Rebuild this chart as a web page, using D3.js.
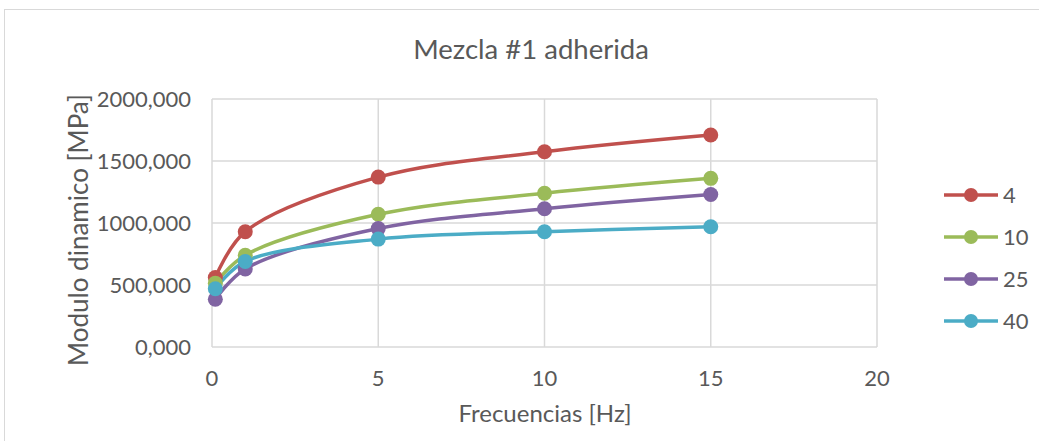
<!DOCTYPE html>
<html>
<head>
<meta charset="utf-8">
<script src="https://cdn.jsdelivr.net/npm/d3@7"></script>
<style>
  body { margin: 0; background: #fff; }
  text { font-family: Lato, "Open Sans", sans-serif; fill: #595959; }
</style>
</head>
<body>
<script>
// frequencies (Hz) and modulus values per series
const freqs = [0.1, 1, 5, 10, 15];
const serie4 = [560, 930, 1370, 1575, 1710];
const serie10 = [515, 740, 1070, 1240, 1360];
const serie25 = [385, 630, 955, 1115, 1230];
const serie40 = [470, 690, 870, 930, 970];
const names = ["4", "10", "25", "40"];
const colors = ["#C0504D", "#9BBB59", "#8064A2", "#4BACC6"];
const xTicks = [0, 5, 10, 15, 20];
const yTicks = [0, 500, 1000, 1500, 2000];

const series = [serie4, serie10, serie25, serie40].map((vals, i) => ({
    name: names[i],
    color: colors[i],
    points: vals.map((v, j) => ({ x: freqs[j], y: v }))
}));

let svg = d3.select("body")
    .append("svg")
    .attr("width", 1039)
    .attr("height", 441);

svg.append("rect")
    .attr("x", 4.5).attr("y", 9.5)
    .attr("width", 1100).attr("height", 500)
    .attr("fill", "#fff")
    .attr("stroke", "#d9d9d9");

let x = d3.scaleLinear().domain([0, 20]).range([212, 877]);
let y = d3.scaleLinear().domain([0, 2000]).range([347, 99]);

// gridlines
svg.selectAll(".hgrid")
    .data(yTicks)
    .enter()
    .append("line")
    .attr("x1", x(0)).attr("x2", x(20))
    .attr("y1", d => y(d)).attr("y2", d => y(d))
    .attr("stroke", "#d9d9d9").attr("stroke-width", 1.5);
svg.selectAll(".vgrid")
    .data(xTicks)
    .enter()
    .append("line")
    .attr("x1", d => x(d)).attr("x2", d => x(d))
    .attr("y1", y(0)).attr("y2", y(2000))
    .attr("stroke", "#d9d9d9").attr("stroke-width", 1.5);

// tick labels
svg.selectAll(".ylab")
    .data(yTicks)
    .enter()
    .append("text")
    .attr("x", 191)
    .attr("y", d => y(d) + 8)
    .attr("text-anchor", "end")
    .attr("font-size", 22)
    .text(d => d + ",000");
svg.selectAll(".xlab")
    .data(xTicks)
    .enter()
    .append("text")
    .attr("x", d => x(d))
    .attr("y", 386)
    .attr("text-anchor", "middle")
    .attr("font-size", 22)
    .text(d => d);

// titles
svg.append("text")
    .attr("x", 531).attr("y", 59)
    .attr("text-anchor", "middle")
    .attr("font-size", 27.5)
    .text("Mezcla #1 adherida");
svg.append("text")
    .attr("x", 545).attr("y", 422)
    .attr("text-anchor", "middle")
    .attr("font-size", 24)
    .text("Frecuencias [Hz]");
svg.append("text")
    .attr("transform", "translate(88,230) rotate(-90)")
    .attr("text-anchor", "middle")
    .attr("font-size", 26)
    .text("Modulo dinamico [MPa]");

// lines and markers
let line = d3.line()
    .x(d => x(d.x))
    .y(d => y(d.y))
    .curve(d3.curveCatmullRom.alpha(0.5));

series.forEach(s => {
    svg.append("path")
        .attr("d", line(s.points))
        .attr("fill", "none")
        .attr("stroke", s.color)
        .attr("stroke-width", 3.5);
});
series.forEach(s => {
    svg.selectAll(null)
        .data(s.points)
        .enter()
        .append("circle")
        .attr("cx", d => x(d.x))
        .attr("cy", d => y(d.y))
        .attr("r", 7.5)
        .attr("fill", s.color);
});

// legend
let legend = svg.selectAll(".legend")
    .data(series)
    .enter()
    .append("g")
    .attr("transform", (d, i) => "translate(944," + (195 + i * 42) + ")");
legend.append("line")
    .attr("x1", 0).attr("x2", 54)
    .attr("stroke", d => d.color)
    .attr("stroke-width", 3.5);
legend.append("circle")
    .attr("cx", 27).attr("r", 7)
    .attr("fill", d => d.color);
legend.append("text")
    .attr("x", 59).attr("y", 8)
    .attr("font-size", 22)
    .text(d => d.name);
</script>
</body>
</html>
